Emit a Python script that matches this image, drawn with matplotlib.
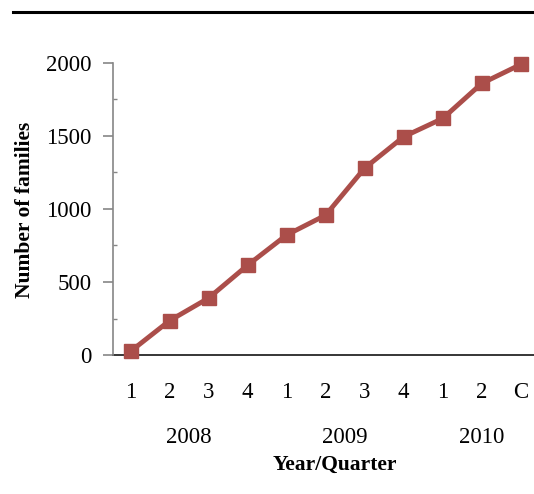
import matplotlib
matplotlib.use("Agg")
import matplotlib.pyplot as plt
from matplotlib.lines import Line2D
from matplotlib.transforms import blended_transform_factory

# Families enrolled per quarter
quarters = ["1", "2", "3", "4", "1", "2", "3", "4", "1", "2", "C"]
families = [25, 235, 390, 615, 822, 958, 1280, 1495, 1620, 1860, 1990]
years = ["2008", "2009", "2010"]
year_centers = [1.5, 5.5, 9.0]

W, H = 534, 494
plt.rcParams["font.family"] = ["Liberation Serif", "DejaVu Serif"]

fig = plt.figure(figsize=(W / 100, H / 100), dpi=100)
ax = fig.add_axes([113 / W, 1 - 355 / H, 1 - 113 / W, (355 - 63) / H])

color = "#AB4E4A"
x = list(range(len(quarters)))
ax.plot(x, families, color=color, lw=3.5, marker="s", markersize=10.5,
        markerfacecolor=color, markeredgecolor=color, clip_on=False, zorder=3)

ax.set_xlim(-0.45, 10.34)
ax.set_ylim(0, 2000)

for s in ["top", "right"]:
    ax.spines[s].set_visible(False)
ax.spines["left"].set_color("#868686")
ax.spines["left"].set_linewidth(1.2)
ax.spines["bottom"].set_color("black")
ax.spines["bottom"].set_linewidth(1.1)
ax.spines["bottom"].set_zorder(2)

ax.set_yticks([0, 500, 1000, 1500, 2000])
ax.set_yticks(list(range(0, 2001, 250)), minor=True)
ax.tick_params(axis="y", which="major", direction="out", length=7.2, width=1.2,
               color="#868686", labelsize=16.5, pad=8)
ax.tick_params(axis="y", which="minor", direction="in", length=3, width=1.0,
               color="#868686")

ax.set_xticks(x)
ax.set_xticklabels(quarters)
ax.tick_params(axis="x", length=0, labelsize=16.5, pad=19.5)

trans = blended_transform_factory(ax.transData, fig.transFigure)
for yr, xc in zip(years, year_centers):
    ax.text(xc, 1 - 437 / H, yr, transform=trans, ha="center", va="center",
            fontsize=16.5)

fig.text(335 / W, 1 - 465 / H, "Year/Quarter", ha="center", va="center",
         fontsize=15.5, fontweight="bold")
fig.text(25 / W, 1 - 210 / H, "Number of families", ha="center", va="center",
         rotation=90, fontsize=15.5, fontweight="bold")

fig.add_artist(Line2D([13 / W, 1], [1 - 12 / H, 1 - 12 / H],
                      transform=fig.transFigure, color="black", lw=2.2))

fig.savefig("out.png", dpi=100)
